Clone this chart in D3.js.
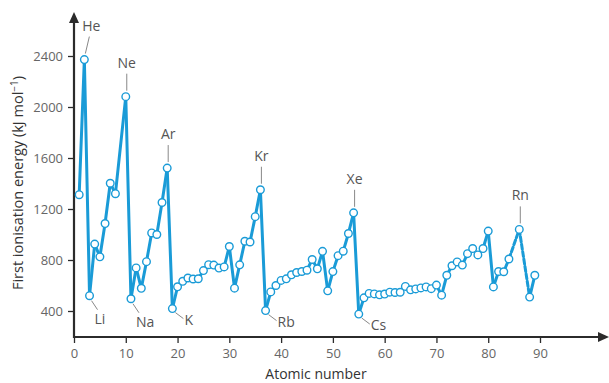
<!DOCTYPE html>
<html>
<head>
<meta charset="utf-8">
<script src="https://cdn.jsdelivr.net/npm/d3@7"></script>
<style>
  body { margin: 0; background: #fff; }
  svg text { font-family: "Open Sans", "Noto Sans", sans-serif; }
</style>
</head>
<body>
<svg id="chart" width="609" height="383"></svg>
<script>
// atomic number / first ionisation energy (kJ mol-1)
var atomicNumbers = [1,2,3,4,5,6,7,8,10,11,12,13,14,15,16,17,18,19,20,21,22,23,24,25,26,27,28,29,30,
  31,32,33,34,35,36,37,38,39,40,41,42,43,44,45,46,47,48,49,50,51,52,53,54,55,56,57,58,59,60,
  61,62,63,64,65,66,67,68,69,70,71,72,73,74,75,76,77,78,79,80,81,82,83,84,86,88,89];
var energies = [1312,2372,520,925,825,1086,1402,1320,2081,496,738,578,787,1012,1000,1251,1521,419,590,633,659,651,653,717,763,760,737,746,906,
  579,762,947,941,1140,1351,403,550,600,640,652,684,702,710,720,804,731,868,558,709,834,869,1008,1170,376,503,538,534,527,533,
  548,545,547,593,566,573,581,589,575,603,524,680,755,785,760,850,890,840,890,1027,589,710,708,808,1040,509,680];
var dashedStarts = [84, 86];

var xTicks = [0,10,20,30,40,50,60,70,80,90];
var yTicks = [400,800,1200,1600,2000,2400];

// element labels: symbol, atomic number, above or below the point
var labelSymbols = ["He","Ne","Ar","Kr","Xe","Rn","Li","Na","K","Rb","Cs"];
var labelNumbers = [2,10,18,36,54,86,3,11,19,37,55];
var labelSides   = ["up","up","up","up","up","up","down","down","right","right","right"];

var blue = "#1a9bd7";
var axisColor = "#2b2b2b";

var svg = d3.select("#chart");

var x = d3.scaleLinear().domain([0, 90]).range([74, 540]);
var y = d3.scaleLinear().domain([200, 2400]).range([336.5, 56]);

var points = atomicNumbers.map(function(z, i){ return {z: z, e: energies[i]}; });

// axes
var xAxis = svg.append("g")
  .attr("transform", "translate(0,337)")
  .call(d3.axisBottom(x).tickValues(xTicks).tickFormat(d3.format("d")).tickSize(6).tickPadding(6));
xAxis.select(".domain").remove();
xAxis.selectAll("line").attr("stroke", axisColor).attr("stroke-width", 1.3);
xAxis.selectAll("text").attr("fill", "#666").attr("font-size", 13).attr("font-family", "Open Sans");

var yAxis = svg.append("g")
  .attr("transform", "translate(74,0)")
  .call(d3.axisLeft(y).tickValues(yTicks).tickFormat(d3.format("d")).tickSize(6).tickPadding(5));
yAxis.select(".domain").remove();
yAxis.selectAll("line").attr("stroke", axisColor).attr("stroke-width", 1.3);
yAxis.selectAll("text").attr("fill", "#666").attr("font-size", 13).attr("font-family", "Open Sans");

svg.append("line").attr("x1", 73).attr("x2", 600).attr("y1", 337).attr("y2", 337)
  .attr("stroke", axisColor).attr("stroke-width", 2.2);
svg.append("line").attr("x1", 74).attr("x2", 74).attr("y1", 338).attr("y2", 22)
  .attr("stroke", axisColor).attr("stroke-width", 2.2);
svg.append("path").attr("d", "M598,332 L609,337 L598,342 Z").attr("fill", axisColor);
svg.append("path").attr("d", "M69,23 L74,12 L79,23 Z").attr("fill", axisColor);

// axis titles
svg.append("text")
  .attr("x", 316).attr("y", 379)
  .attr("text-anchor", "middle")
  .attr("font-size", 14).attr("fill", "#333")
  .text("Atomic number");

var yTitle = svg.append("text")
  .attr("transform", "translate(23,183) rotate(-90)")
  .attr("text-anchor", "middle")
  .attr("font-size", 14.5).attr("fill", "#333");
yTitle.append("tspan").text("First ionisation energy (kJ mol");
yTitle.append("tspan").attr("font-size", 10).attr("dy", -5).text("\u22121");
yTitle.append("tspan").attr("dy", 5).text(")");

// line segments
var segments = [];
for (var i = 1; i < points.length; i++) {
  segments.push({a: points[i-1], b: points[i], dashed: dashedStarts.indexOf(points[i-1].z) >= 0});
}
svg.append("g").selectAll("line")
  .data(segments)
  .enter()
  .append("line")
  .attr("x1", function(s){ return x(s.a.z); })
  .attr("y1", function(s){ return y(s.a.e); })
  .attr("x2", function(s){ return x(s.b.z); })
  .attr("y2", function(s){ return y(s.b.e); })
  .attr("stroke", blue)
  .attr("stroke-width", 3)
  .attr("stroke-linecap", "round")
  .attr("stroke-dasharray", function(s){ return s.dashed ? "5,2.5" : null; });

// leader lines and labels
var labels = labelSymbols.map(function(s, i){
  var z = labelNumbers[i];
  var p = points.filter(function(d){ return d.z === z; })[0];
  return {sym: s, x: x(p.z), y: y(p.e), side: labelSides[i]};
});

var labelG = svg.append("g");
labels.forEach(function(l){
  var line = labelG.append("line").attr("stroke", "#888").attr("stroke-width", 1);
  var txt = labelG.append("text").attr("font-size", 14).attr("fill", "#555").text(l.sym);
  if (l.side === "up") {
    var dx = l.sym === "He" ? 4 : 0;
    line.attr("x1", l.x + 1).attr("y1", l.y - 6)
      .attr("x2", l.x + 1 + dx).attr("y2", l.y - 23);
    txt.attr("x", l.x + 1 + dx * 1.5).attr("y", l.y - 29)
      .attr("text-anchor", "middle");
  } else if (l.side === "down") {
    line.attr("x1", l.x + 2).attr("y1", l.y + 5)
      .attr("x2", l.x + 8).attr("y2", l.y + 14);
    txt.attr("x", l.x + 5).attr("y", l.y + 28);
  } else {
    line.attr("x1", l.x + 3).attr("y1", l.y + 4)
      .attr("x2", l.x + 11).attr("y2", l.y + 10);
    txt.attr("x", l.x + 12).attr("y", l.y + 16);
  }
});

// markers
svg.append("g").selectAll("circle")
  .data(points)
  .enter()
  .append("circle")
  .attr("cx", function(d){ return x(d.z); })
  .attr("cy", function(d){ return y(d.e); })
  .attr("r", 3.8)
  .attr("fill", "#fff")
  .attr("stroke", blue)
  .attr("stroke-width", 1.4);
</script>
</body>
</html>
